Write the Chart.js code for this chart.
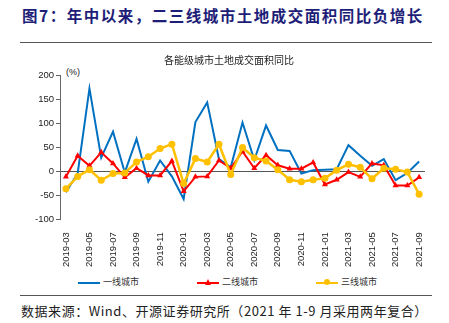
<!DOCTYPE html>
<html>
<head>
<meta charset="utf-8">
<script src="https://cdn.jsdelivr.net/npm/chart.js@4"></script>
<style>
  html, body { margin: 0; padding: 0; background: #fff; }
  body { width: 449px; height: 323px; position: relative; overflow: hidden;
         font-family: "Noto Sans CJK SC", "Liberation Sans", sans-serif; }
  #head { position: absolute; left: 22px; top: 4px; font-size: 15.5px; font-weight: bold;
          color: #1e1e78; letter-spacing: 1.5px; white-space: nowrap; }
  .rule { position: absolute; left: 20px; width: 412px; height: 1px; background: #555; }
  #unit { position: absolute; left: 66px; top: 67px; font-size: 9px; color: #222;
          font-family: "Liberation Sans", Arial, sans-serif; }
  #foot { position: absolute; left: 21px; top: 301px; font-size: 13px; color: #222;
          white-space: nowrap; letter-spacing: 0.55px; }
  #box { position: absolute; left: 0; top: 48px; width: 449px; height: 224px; }
  .lg { position: absolute; top: 275px; font-size: 9px; color: #333; white-space: nowrap; }
  .lg i { display: inline-block; position: relative; width: 22px; height: 2px; margin-right: 3px;
          vertical-align: middle; }
  .lg i b { position: absolute; left: 8px; top: -2.5px; width: 6px; height: 6px; }
</style>
</head>
<body>
<div id="head">图7：年中以来，二三线城市土地成交面积同比负增长</div>
<div class="rule" style="top:42px"></div>
<div id="unit">(%)</div>
<div id="box"><canvas id="c"></canvas></div>
<div class="lg" style="left:78px"><i style="background:#0070c0"></i>一线城市</div>
<div class="lg" style="left:197px"><i style="background:#ff0000"><b style="background:#ff0000;clip-path:polygon(50% 0,100% 100%,0 100%)"></b></i>二线城市</div>
<div class="lg" style="left:316px"><i style="background:#ffc000"><b style="background:#ffc000;border-radius:50%"></b></i>三线城市</div>
<div class="rule" style="top:295px"></div>
<div id="foot">数据来源：Wind、开源证券研究所（2021 年 1-9 月采用两年复合）</div>

<script>
// ── Data ────────────────────────────────────────────────
const months = [
  "2019-03","2019-04","2019-05","2019-06","2019-07","2019-08","2019-09","2019-10","2019-11","2019-12",
  "2020-01","2020-02","2020-03","2020-04","2020-05","2020-06","2020-07","2020-08","2020-09","2020-10",
  "2020-11","2020-12","2021-01","2021-02","2021-03","2021-04","2021-05","2021-06","2021-07","2021-08","2021-09"
];
const tier1 = [-44, -5, 172, 28, 82, -3, 67, -22, 22, -11,
               -58, 102, 143, 25, 8, 101, 23, 95, 44, 42,
               -5, 2, 3, 4, 54, 32, 11, 25, -19, -4, 20];
const tier2 = [-12, 32, 11, 39, 16, -13, 6, -9, -9, 21,
               -42, -12, -11, 22, 6, 41, 6, 33, 12, 5,
               5, 18, -28, -18, -2, -12, 16, 12, -30, -30, -13];
const tier3 = [-37, -11, 3, -19, -5, -4, 19, 30, 47, 56,
               -26, 26, 19, 56, -7, 49, 28, 21, 3, -18,
               -22, -18, -15, 2, 14, 8, -16, 6, 4, -2, -48];
const yTicks = { min: -100, max: 200, step: 50 };

const latin = "'Liberation Sans', Arial, sans-serif";
const cjk   = "'Noto Sans CJK SC', sans-serif";

new Chart(document.getElementById("c"), {
  type: "line",
  data: {
    labels: months,
    datasets: [
      { label: "一线城市", data: tier1, borderColor: "#0070c0", backgroundColor: "#0070c0",
        borderWidth: 2, pointRadius: 0, tension: 0, order: 2 },
      { label: "二线城市", data: tier2, borderColor: "#ff0000", backgroundColor: "#ff0000",
        borderWidth: 2, pointStyle: "triangle", pointRadius: 3.5, pointBorderWidth: 0,
        tension: 0, order: 1 },
      { label: "三线城市", data: tier3, borderColor: "#ffc000", backgroundColor: "#ffc000",
        borderWidth: 2.5, pointStyle: "circle", pointRadius: 3.5, pointBorderWidth: 0,
        tension: 0, order: 0 }
    ]
  },
  options: {
    responsive: true,
    maintainAspectRatio: false,
    animation: false,
    layout: { padding: { left: 33, right: 24, top: 0, bottom: 0 } },
    plugins: {
      title: {
        display: true, text: "各能级城市土地成交面积同比",
        color: "#222", font: { family: cjk, size: 10, weight: "normal" },
        padding: { top: 6, bottom: 9 }
      },
      legend: { display: false },
      tooltip: { enabled: false }
    },
    scales: {
      x: {
        offset: true,
        grid: { display: false },
        border: { display: false },
        ticks: {
          autoSkip: false, minRotation: 90, maxRotation: 90,
          color: "#222", font: { family: latin, size: 9.5 }, padding: 5,
          callback: function (v, i) { return i % 2 === 0 ? months[i] : ""; }
        }
      },
      y: {
        min: yTicks.min, max: yTicks.max,
        border: { display: true, color: "#666", width: 1 },
        grid: {
          drawTicks: true, tickLength: 4, tickColor: "#666",
          color: function (ctx) { return ctx.tick && ctx.tick.value === 0 ? "#555" : "rgba(0,0,0,0)"; },
          lineWidth: 1
        },
        ticks: { stepSize: yTicks.step, color: "#222", font: { family: latin, size: 9.5 }, padding: 2 }
      }
    }
  }
});
</script>
</body>
</html>
